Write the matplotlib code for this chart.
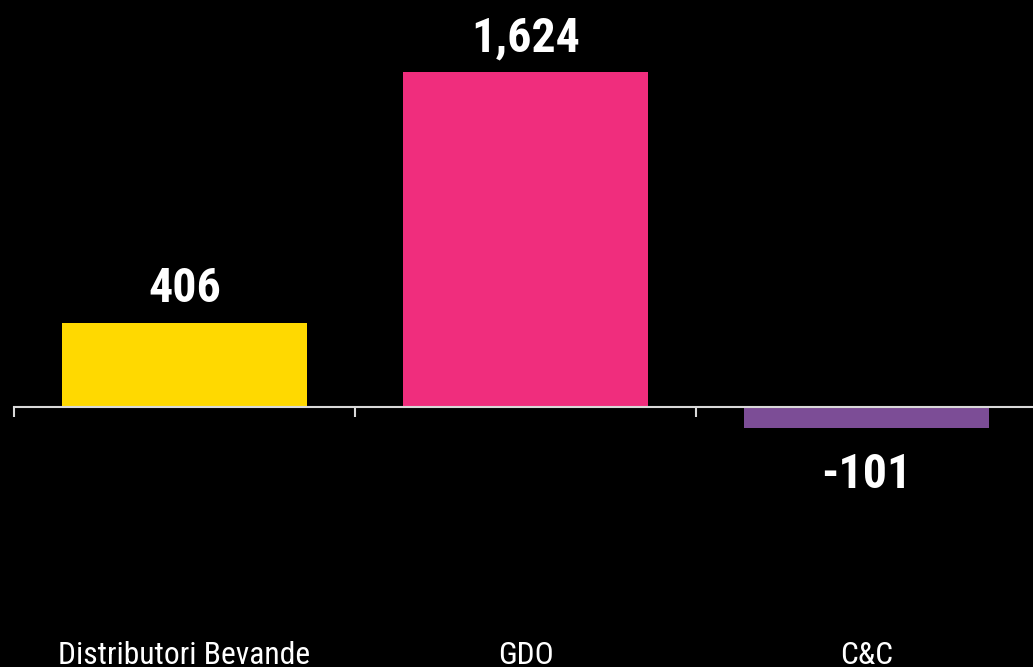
import matplotlib
matplotlib.use("Agg")
import matplotlib.pyplot as plt
from matplotlib import font_manager

# Données
categories = ["Distributori Bevande", "GDO", "C&C"]
valeurs = [406, 1624, -101]
etiquettes = ["406", "1,624", "-101"]
couleurs = ["#FFD900", "#F02D7D", "#7C4D96"]

# Police : condensée si disponible
noms = {f.name for f in font_manager.fontManager.ttflist}
police = "Roboto"
for nom in ["Roboto Condensed", "Liberation Sans Narrow", "Roboto"]:
    if nom in noms:
        police = nom
        break
plt.rcParams["font.family"] = [police, "DejaVu Sans"]

W, H = 1033, 667
fig = plt.figure(figsize=(W / 100, H / 100), dpi=100, facecolor="black")
ax = fig.add_axes([14 / W, 0, 1023 / W, 1])
ax.set_facecolor("black")

x = list(range(len(categories)))
ax.bar(x, valeurs, width=0.716, color=couleurs, zorder=2)

# Échelle : 0 à y=407 px, 1624 à y=72 px
px_par_unite = (407 - 72) / 1624
ax.set_ylim(-(H - 407) / px_par_unite, 407 / px_par_unite)
ax.set_xlim(-0.5, len(categories) - 0.5)

for s in ["top", "right", "left"]:
    ax.spines[s].set_visible(False)
ax.spines["bottom"].set_position(("data", 0))
ax.spines["bottom"].set_color("#d9d9d9")
ax.spines["bottom"].set_linewidth(1.5)
ax.spines["bottom"].set_zorder(3)
ax.set_xticks([i - 0.5 for i in x])
ax.set_xticklabels([])
ax.tick_params(axis="x", direction="out", length=7, width=1.5, color="#d9d9d9")
ax.set_yticks([])

# Étiquettes de valeurs
for xi, v, t in zip(x, valeurs, etiquettes):
    dy = 15 if v >= 0 else -43
    ax.annotate(t, (xi, v), xytext=(0, dy), textcoords="offset points",
                ha="center", va="baseline", color="white",
                fontsize=34.5, fontweight="bold")

# Catégories en bas
for xi, c in zip(x, categories):
    ax.text(xi, 3 / H, c, transform=ax.get_xaxis_transform(),
            ha="center", va="baseline", color="white", fontsize=22.8)

fig.savefig("out.png", dpi=100, facecolor="black")
